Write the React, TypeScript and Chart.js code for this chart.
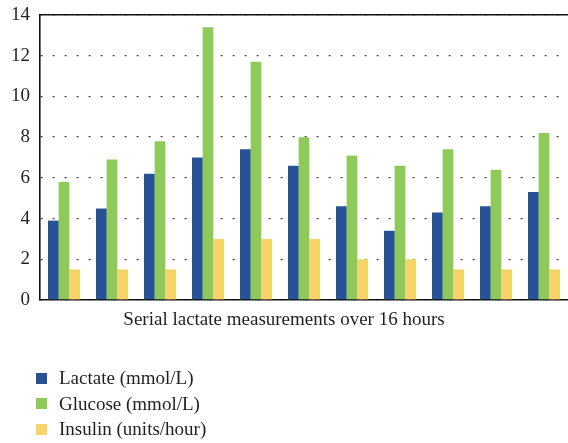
import React, { useEffect, useRef } from "react";
import { Chart, registerables } from "chart.js";

Chart.register(...registerables);

const categories = ["1", "2", "3", "4", "5", "6", "7", "8", "9", "10", "11"];
const lactate = [3.9, 4.5, 6.2, 7.0, 7.4, 6.6, 4.6, 3.4, 4.3, 4.6, 5.3];
const glucose = [5.8, 6.9, 7.8, 13.4, 11.7, 8.0, 7.1, 6.6, 7.4, 6.4, 8.2];
const insulin = [1.5, 1.5, 1.5, 3.0, 3.0, 3.0, 2.0, 2.0, 1.5, 1.5, 1.5];
const seriesNames = ["Lactate (mmol/L)", "Glucose (mmol/L)", "Insulin (units/hour)"];
const seriesColors = ["#285392", "#8fc957", "#f6d46b"];
const xTitle = "Serial lactate measurements over 16 hours";

const FONT = "'Liberation Serif', 'Times New Roman', serif";
const TEXT = "#231f20";

export default function App() {
  const ref = useRef<HTMLCanvasElement | null>(null);

  useEffect(() => {
    if (!ref.current) return;
    const values = [lactate, glucose, insulin];
    const chart = new Chart(ref.current, {
      type: "bar",
      data: {
        labels: categories,
        datasets: values.map((v, i) => ({
          label: seriesNames[i],
          data: v,
          backgroundColor: seriesColors[i],
          borderWidth: 0,
          categoryPercentage: 0.667,
          barPercentage: 1.0,
        })),
      },
      options: {
        animation: false,
        responsive: false,
        layout: { padding: { top: 15, left: 0, right: 0, bottom: 0 } },
        plugins: {
          legend: { display: false },
          tooltip: { enabled: false },
          title: {
            display: true,
            text: xTitle,
            position: "bottom",
            color: TEXT,
            font: { family: FONT, size: 19, weight: "normal" },
            padding: { top: 8.6, bottom: 111.6 },
          },
        },
        scales: {
          x: {
            type: "category",
            grid: { display: false, drawTicks: false },
            ticks: { display: false },
            border: { display: true, color: "#111", width: 1.6 },
            afterFit: (s: any) => {
              s.height = 0;
            },
          },
          x2: {
            type: "category",
            position: "top",
            labels: categories,
            grid: { display: false, drawTicks: false },
            ticks: { display: false },
            border: { display: true, color: "#111", width: 1.6 },
            afterFit: (s: any) => {
              s.height = 0;
            },
          },
          y: {
            min: 0,
            max: 14,
            ticks: {
              stepSize: 2,
              padding: 10,
              color: TEXT,
              font: { family: FONT, size: 19 },
            },
            grid: {
              drawTicks: false,
              color: "#444",
              lineWidth: 1.3,
            },
            border: { display: true, color: "#111", width: 1.6, dash: [2, 10] as any },
            afterFit: (s: any) => {
              s.width = 40;
              s.paddingTop = 0;
              s.paddingBottom = 0;
            },
          },
        },
      },
    });
    return () => chart.destroy();
  }, []);

  return (
    <div style={{ position: "absolute", left: 0, top: 0, width: 568, height: 443, background: "#fff" }}>
      <canvas ref={ref} width={568} height={443} style={{ display: "block" }} />
      {seriesNames.map((name, i) => (
        <div
          key={name}
          style={{
            position: "absolute",
            left: 36,
            top: 366 + i * 25.5,
            height: 24,
            display: "flex",
            alignItems: "center",
            fontFamily: FONT,
            fontSize: 19,
            color: TEXT,
            whiteSpace: "nowrap",
          }}
        >
          <span style={{ display: "inline-block", width: 11, height: 11, background: seriesColors[i], marginRight: 12 }} />
          <span>{name}</span>
        </div>
      ))}
    </div>
  );
}
